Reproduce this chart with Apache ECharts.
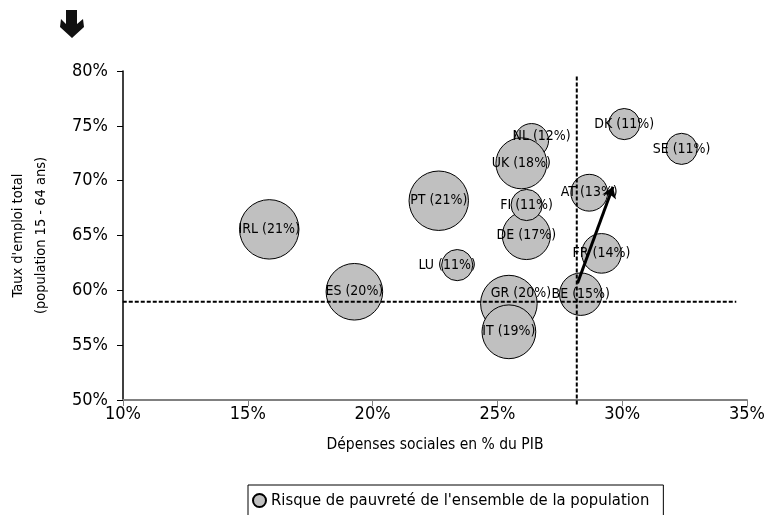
<!DOCTYPE html>
<html>
<head>
<meta charset="utf-8">
<script src="https://cdn.jsdelivr.net/npm/echarts@6/dist/echarts.min.js"></script>
<style>
html,body{margin:0;padding:0;background:#fff;}
#chart{width:766px;height:515px;}
</style>
</head>
<body>
<div id="chart"></div>
<script>
// ---- data ----
const countries = ['IRL','ES','PT','LU','NL','UK','DE','FI','GR','IT','BE','AT','FR','DK','SE'];
const socialSpending = [15.86,19.27,22.65,23.39,26.37,25.96,26.16,26.17,25.46,25.46,28.34,28.68,29.17,30.08,32.38];
const employmentRate = [65.56,59.87,68.17,62.3,73.66,71.58,65.0,67.78,58.79,56.22,59.65,68.9,63.37,75.16,72.9];
const povertyRisk = [21,20,21,11,12,18,17,11,20,19,15,13,14,11,11];
const averageSpending = 28.18;
const averageEmployment = 58.96;
const arrowFrom = [28.21,60.64];
const arrowTo = [29.63,69.45];
const xTicks = {min:10,max:35,step:5};
const yTicks = {min:50,max:80,step:5};
const seriesName = "Risque de pauvreté de l'ensemble de la population";
const xName = 'Dépenses sociales en % du PIB';
const yName = "Taux d'emploi total\n(population 15 - 64 ans)";

// ---- styles ----
const FONT = "'Liberation Sans Narrow','DejaVu Sans Condensed','Arial Narrow',sans-serif";
const labelOffsets = {NL:[10,-4], LU:[-10,0], GR:[12,-10]};
const sizeFactor = 2.83;

const chart = echarts.init(document.getElementById('chart'));

const bubbleData = countries.map((c,i)=>({
  name: c,
  value: [socialSpending[i], employmentRate[i], povertyRisk[i]],
  label: labelOffsets[c] ? {offset: labelOffsets[c]} : undefined
}));

const option = {
  animation:false,
  backgroundColor:'#fff',
  textStyle:{fontFamily:FONT},
  grid:{left:123,right:19,top:71,bottom:115,containLabel:false,outerBoundsMode:'none'},
  graphic:[{
    type:'polygon',
    shape:{points:[[66,10],[77,10],[77,24],[83,19],[84,27],[72,38],[60,27],[61,19],[66,24]]},
    style:{fill:'#111'}
  }],
  legend:{
    data:[{name:seriesName, icon:'circle'}],
    left:248, top:485,
    itemWidth:13, itemHeight:13, itemGap:4,
    padding:[7,14,12,4],
    borderColor:'#000', borderWidth:1,
    textStyle:{fontFamily:FONT, fontSize:16.5, color:'#000'}
  },
  xAxis:{
    type:'value', min:xTicks.min, max:xTicks.max, interval:xTicks.step,
    name:xName, nameLocation:'middle', nameGap:37,
    nameTextStyle:{fontFamily:FONT, fontSize:15.5, color:'#000'},
    axisLine:{show:true, lineStyle:{color:'#808080', width:2}},
    axisTick:{show:true, length:6, lineStyle:{color:'#808080', width:1}},
    axisLabel:{formatter:'{value}%', fontFamily:FONT, fontSize:18, color:'#000', margin:5},
    splitLine:{show:false}
  },
  yAxis:{
    type:'value', min:yTicks.min, max:yTicks.max, interval:yTicks.step,
    name:yName, nameLocation:'middle', nameGap:70,
    nameTextStyle:{fontFamily:FONT, fontSize:14.5, color:'#000', lineHeight:23, align:'center'},
    axisLine:{show:true, onZero:false, lineStyle:{color:'#000', width:1.5}},
    axisTick:{show:true, length:6, lineStyle:{color:'#000', width:1}},
    axisLabel:{formatter:'{value}%', fontFamily:FONT, fontSize:18, color:'#000', margin:15},
    splitLine:{show:false}
  },
  series:[
    {
      name:'avgH', type:'line', clip:false, symbol:'none', silent:true, z:3,
      data:[[xTicks.min-0.25, averageEmployment],[34.57, averageEmployment]],
      lineStyle:{color:'#000', width:2, type:[4,2]}
    },
    {
      name:'avgV', type:'line', clip:false, symbol:'none', silent:true, z:3,
      data:[[averageSpending, 49.6],[averageSpending, 79.5]],
      lineStyle:{color:'#000', width:2, type:[4,2]}
    },
    {
      name:seriesName, type:'scatter', z:2,
      data:bubbleData,
      symbolSize:(v)=>v[2]*sizeFactor,
      itemStyle:{color:'#c0c0c0', borderColor:'#000', borderWidth:1, opacity:1},
      label:{
        show:true, position:'inside', color:'#000',
        fontFamily:FONT, fontSize:14,
        formatter:(p)=>p.name+' ('+p.value[2]+'%)'
      },
      emphasis:{disabled:true}
    },
    {
      name:'arrow', type:'lines', coordinateSystem:'cartesian2d', z:5, silent:true,
      symbol:['none','arrow'], symbolSize:11,
      lineStyle:{color:'#000', width:3, opacity:1, curveness:0},
      data:[{coords:[arrowFrom, arrowTo]}]
    }
  ]
};
chart.setOption(option);
</script>
</body>
</html>
